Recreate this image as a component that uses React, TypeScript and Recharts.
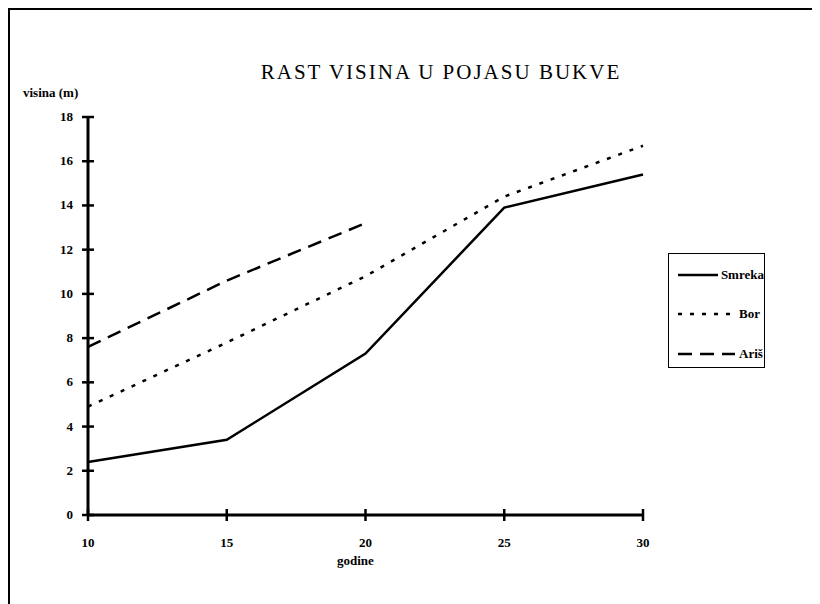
import React from 'react';
import { LineChart, Line, XAxis, YAxis } from 'recharts';

// godine (age) on the x axis
const years = [10, 15, 20, 25, 30];
// heights in metres
const smreka = [2.4, 3.4, 7.3, 13.9, 15.4];
const bor = [4.9, 7.8, 10.8, 14.4, 16.7];
const aris = [7.6, 10.6, 13.2, null, null];
const yTicks = [0, 2, 4, 6, 8, 10, 12, 14, 16, 18];

const data = years.map((g, i) => ({ godine: g, Smreka: smreka[i], Bor: bor[i], 'Ariš': aris[i] }));

// line styles, also used for the legend box
const series = [
  { key: 'Smreka', dash: undefined },
  { key: 'Bor', dash: '4 8' },
  { key: 'Ariš', dash: '14 8' },
];

const FONT = '"Liberation Serif", "DejaVu Serif", "Noto Serif", "Times New Roman", serif';
const TICK_SIZE = 6;
const TICK_MARGIN = 9;

const YTick = (props: any) => {
  const { x, y, payload } = props;
  const axisX = x + TICK_MARGIN + TICK_SIZE;
  return (
    <g>
      <line x1={axisX - TICK_SIZE} x2={axisX + TICK_SIZE} y1={y} y2={y} stroke="#000" strokeWidth={2.5} />
      <text x={x} y={y} dy={4} textAnchor="end" fontFamily={FONT} fontWeight="bold" fontSize={13} fill="#000">
        {payload.value}
      </text>
    </g>
  );
};

const XTick = (props: any) => {
  const { x, y, payload } = props;
  const axisY = y - TICK_MARGIN - TICK_SIZE;
  return (
    <g>
      <line x1={x} x2={x} y1={axisY - TICK_SIZE} y2={axisY + TICK_SIZE} stroke="#000" strokeWidth={2.5} />
      <text x={x} y={y} dy={17} textAnchor="middle" fontFamily={FONT} fontWeight="bold" fontSize={13} fill="#000">
        {payload.value}
      </text>
    </g>
  );
};

const LegendBox = () => (
  <div style={{ position: 'absolute', left: 658, top: 243, width: 97, height: 115, border: '1.5px solid #000', background: '#fff', boxSizing: 'border-box', paddingTop: 1 }}>
    {series.map((s) => (
      <div key={s.key} style={{ display: 'flex', alignItems: 'center', height: 39.5 }}>
        <svg width={58} height={10} style={{ marginLeft: 9 }}>
          <line x1={0} x2={57} y1={5} y2={5} stroke="#000" strokeWidth={2.5} strokeDasharray={s.dash} />
        </svg>
        <span style={{ fontFamily: FONT, fontSize: 13, fontWeight: 'bold', marginLeft: 3 }}>{s.key}</span>
      </div>
    ))}
  </div>
);

export default function App() {
  return (
    <div style={{ position: 'relative', width: 810, height: 594, borderTop: '2px solid #000', borderLeft: '2px solid #000', background: '#fff', overflow: 'hidden' }}>
      <style>{'html, body { overflow: hidden; }'}</style>
      <div style={{ position: 'absolute', left: 81, width: 700, top: 50, textAlign: 'center', fontFamily: FONT, fontSize: 21, letterSpacing: 2 }}>
        RAST VISINA U POJASU BUKVE
      </div>
      <div style={{ position: 'absolute', left: 13, top: 75, fontFamily: FONT, fontSize: 13, fontWeight: 'bold' }}>
        visina (m)
      </div>
      <div style={{ position: 'absolute', left: 327, top: 543, fontFamily: FONT, fontSize: 13, fontWeight: 'bold' }}>
        godine
      </div>
      <LineChart width={760} height={594} data={data} margin={{ top: 107, right: 127, bottom: 49, left: 18 }}>
        <XAxis dataKey="godine" type="number" domain={[10, 30]} ticks={years}
          axisLine={{ stroke: '#000', strokeWidth: 3 }} tickLine={false}
          tickSize={TICK_SIZE} tickMargin={TICK_MARGIN} tick={<XTick />} height={40} />
        <YAxis domain={[0, 18]} ticks={yTicks} interval={0}
          axisLine={{ stroke: '#000', strokeWidth: 3 }} tickLine={false}
          tickSize={TICK_SIZE} tickMargin={TICK_MARGIN} tick={<YTick />} width={60} />
        {series.map((s) => (
          <Line key={s.key} dataKey={s.key} stroke="#000" strokeWidth={2.5} strokeDasharray={s.dash}
            dot={false} isAnimationActive={false} />
        ))}
      </LineChart>
      <LegendBox />
    </div>
  );
}
